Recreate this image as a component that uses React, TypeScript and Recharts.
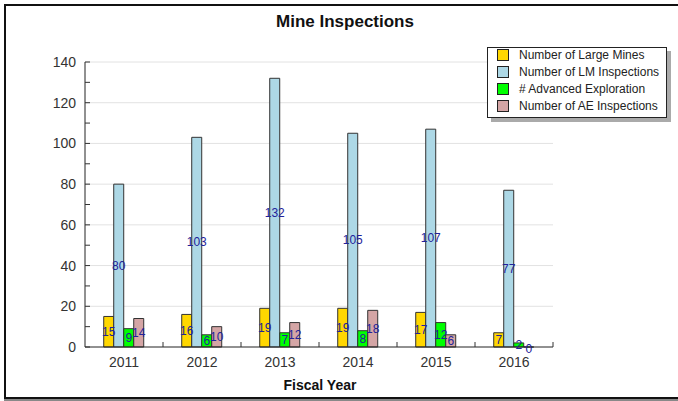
import { BarChart, Bar, XAxis, YAxis, CartesianGrid, LabelList, Legend } from 'recharts';

const years = ['2011', '2012', '2013', '2014', '2015', '2016'];
const largeMines = [15, 16, 19, 19, 17, 7];
const lmInspections = [80, 103, 132, 105, 107, 77];
const advExploration = [9, 6, 7, 8, 12, 2];
const aeInspections = [14, 10, 12, 18, 6, 0];

const yTicks = [0, 10, 20, 30, 40, 50, 60, 70, 80, 90, 100, 110, 120, 130, 140];
const gridValues = [20, 40, 60, 80, 100, 120, 140];

const seriesInfo = [
    { key: 'large', name: 'Number of Large Mines', color: '#FFD700' },
    { key: 'lm', name: 'Number of LM Inspections', color: '#ADD8E6' },
    { key: 'adv', name: '# Advanced Exploration', color: '#00FF00' },
    { key: 'ae', name: 'Number of AE Inspections', color: '#D4A5A5' },
];

const data = years.map((y, i) => ({
    year: y,
    large: largeMines[i],
    lm: lmInspections[i],
    adv: advExploration[i],
    ae: aeInspections[i],
}));

const FONT = 'Arial, "Liberation Sans", sans-serif';

// y ticks point into the plot, labels only every 20
const YTick = (props: any) => {
    const { x, y, payload } = props;
    const axisX = x + 8;
    const v = payload.value;
    return (
        <g>
            <line x1={axisX} y1={y} x2={axisX + 5} y2={y} stroke="#333" />
            {v % 20 === 0 && (
                <text x={x - 1} y={y} dy={5} textAnchor="end" fontSize={14} fill="#333" fontFamily={FONT}>
                    {v}
                </text>
            )}
        </g>
    );
};

// x ticks sit on category boundaries, pointing up
const XTick = (props: any) => {
    const { x, y, payload } = props;
    const half = payload.offset || 39;
    const axisY = y - 4;
    return (
        <g>
            <line x1={x + half} y1={axisY} x2={x + half} y2={axisY - 5} stroke="#333" />
            <text x={x} y={y} dy={16} textAnchor="middle" fontSize={14} fill="#333" fontFamily={FONT}>
                {payload.value}
            </text>
        </g>
    );
};

// value label centred in the bar (zero bars sit just under the axis)
const ValueLabel = (props: any) => {
    const { x, y, width, height, value } = props;
    if (value == null) return null;
    const cx = Number(x) + Number(width) / 2;
    const cy = Number(y) + Number(height) / 2 + (Number(value) === 0 ? 2 : 0);
    return (
        <text x={cx} y={cy} dy={4} textAnchor="middle" fontSize={12} fill="#22229a" fontFamily={FONT}>
            {value}
        </text>
    );
};

// keep zero bars in the layout so their label still draws
const keepZero = (value: any) => (Number(value) === 0 ? 0.01 : 0);

const LegendBox = () => (
    <div
        style={{
            width: 180,
            height: 71,
            border: '1px solid #222',
            background: '#fff',
            boxShadow: '4px 4px 0 #aaa',
            fontFamily: FONT,
            fontSize: 12,
            color: '#222',
            boxSizing: 'border-box',
            position: 'relative',
        }}
    >
        <div style={{ position: 'absolute', left: 0, top: -2 }}>
            {seriesInfo.map((s) => (
                <div key={s.key} style={{ display: 'flex', alignItems: 'center', height: 17, paddingLeft: 9 }}>
                    <span
                        style={{
                            display: 'inline-block',
                            width: 10,
                            height: 10,
                            background: s.color,
                            border: '1px solid #222',
                            marginRight: 10,
                        }}
                    />
                    <span style={{ whiteSpace: 'nowrap' }}>{s.name}</span>
                </div>
            ))}
        </div>
    </div>
);

export default function App() {
    return (
        <div style={{ position: 'absolute', left: 0, top: 0, width: 678, height: 401, overflow: 'hidden', background: '#fff' }}>
            <div
                style={{
                    position: 'absolute',
                    left: 4,
                    top: 4,
                    width: 690,
                    height: 391,
                    border: '2px solid #111',
                    boxShadow: '0 3px 0 #888',
                }}
            />
            <div
                style={{
                    position: 'absolute',
                    left: 0,
                    width: 690,
                    top: 12,
                    textAlign: 'center',
                    fontFamily: FONT,
                    fontWeight: 'bold',
                    fontSize: 17,
                    color: '#111',
                }}
            >
                Mine Inspections
            </div>
            <div
                style={{
                    position: 'absolute',
                    left: 270,
                    width: 100,
                    top: 377,
                    textAlign: 'center',
                    fontFamily: FONT,
                    fontWeight: 'bold',
                    fontSize: 14,
                    color: '#111',
                }}
            >
                Fiscal Year
            </div>
            <div style={{ position: 'absolute', left: 0, top: 0 }}>
                <BarChart
                    width={678}
                    height={401}
                    data={data}
                    margin={{ top: 62, right: 125, bottom: 24, left: 0 }}
                    barCategoryGap="24%"
                    barGap={0}
                >
                    <CartesianGrid vertical={false} horizontalValues={gridValues} stroke="#e2e2e2" />
                    <XAxis
                        dataKey="year"
                        height={30}
                        stroke="#222"
                        tickLine={false}
                        tickSize={0}
                        tickMargin={4}
                        tick={<XTick />}
                        interval={0}
                    />
                    <YAxis
                        domain={[0, 140]}
                        ticks={yTicks}
                        width={85}
                        stroke="#222"
                        tickLine={false}
                        tickSize={0}
                        tickMargin={8}
                        tick={<YTick />}
                        interval={0}
                    />
                    <Legend
                        layout="vertical"
                        verticalAlign="middle"
                        align="center"
                        wrapperStyle={{ position: 'absolute', left: 487, top: 47, width: 184 }}
                        content={<LegendBox />}
                    />
                    {seriesInfo.map((s) => (
                        <Bar
                            key={s.key}
                            dataKey={s.key}
                            name={s.name}
                            fill={s.color}
                            stroke="#333"
                            strokeWidth={1}
                            minPointSize={keepZero}
                            isAnimationActive={false}
                        >
                            <LabelList dataKey={s.key} content={<ValueLabel />} />
                        </Bar>
                    ))}
                </BarChart>
            </div>
        </div>
    );
}
